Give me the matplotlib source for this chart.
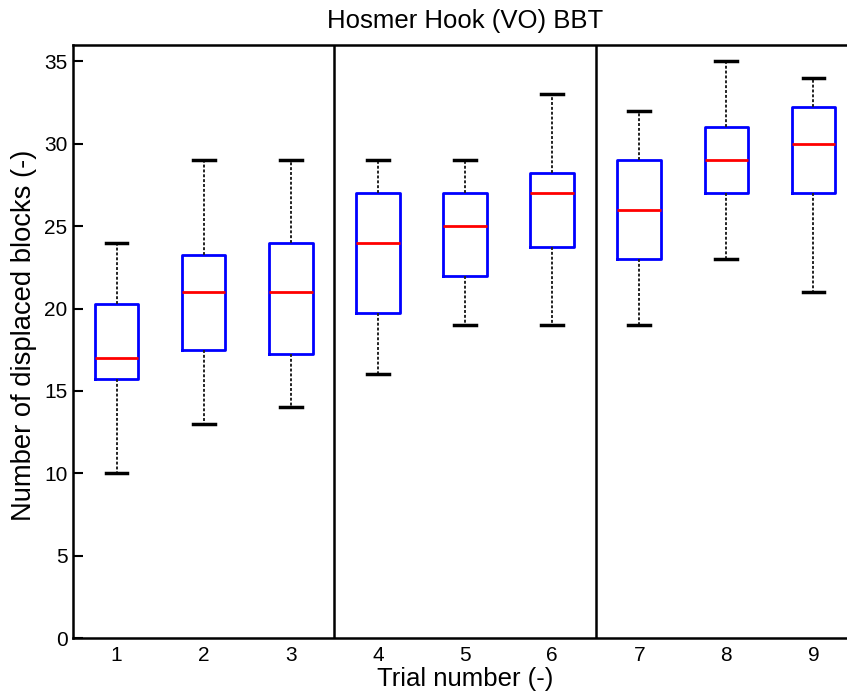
import matplotlib.pyplot as plt

plt.rcParams['font.family'] = ['Liberation Sans', 'DejaVu Sans']

# box statistics
trials = [1, 2, 3, 4, 5, 6, 7, 8, 9]
whislo = [10, 13, 14, 16, 19, 19, 19, 23, 21]
q1 = [15.75, 17.5, 17.25, 19.75, 22, 23.75, 23, 27, 27]
med = [17, 21, 21, 24, 25, 27, 26, 29, 30]
q3 = [20.25, 23.25, 24, 27, 27, 28.25, 29, 31, 32.25]
whishi = [24, 29, 29, 29, 29, 33, 32, 35, 34]
separators = [3.5, 6.5]

stats = []
for i in range(len(trials)):
    stats.append({'whislo': whislo[i], 'q1': q1[i], 'med': med[i],
                  'q3': q3[i], 'whishi': whishi[i], 'fliers': []})

fig = plt.figure(figsize=(8.47, 6.98), dpi=100)
ax = fig.add_axes([73/847, 1-638/698, (857-73)/847, (638-45)/698])

ax.bxp(stats, positions=trials, widths=0.5, showfliers=False,
       boxprops=dict(color='#0000ff', linewidth=2),
       medianprops=dict(color='#ff0000', linewidth=2),
       whiskerprops=dict(color='#222222', linewidth=1.4, linestyle=(0, (1.5, 1))),
       capprops=dict(color='black', linewidth=2.5),
       capwidths=0.25)

for s in separators:
    ax.axvline(s, color='black', linewidth=1.8)

ax.set_xlim(0.5, 9.5)
ax.set_ylim(0, 36)
ax.set_yticks(range(0, 36, 5))
ax.set_xticks(trials)
ax.set_xticklabels([str(t) for t in trials])
ax.tick_params(axis='y', direction='in', length=7, width=1.5, labelsize=15, pad=4)
ax.tick_params(axis='x', length=0, labelsize=15, pad=6)
for sp in ax.spines.values():
    sp.set_linewidth(1.8)

ax.set_xlabel('Trial number (-)', fontsize=18.5, labelpad=1)
ax.set_ylabel('Number of displaced blocks (-)', fontsize=19.7)
ax.yaxis.set_label_coords(-0.046, 0.51)
ax.set_title('Hosmer Hook (VO) BBT', fontsize=18.5, pad=12)

fig.savefig('out.png', dpi=100)
